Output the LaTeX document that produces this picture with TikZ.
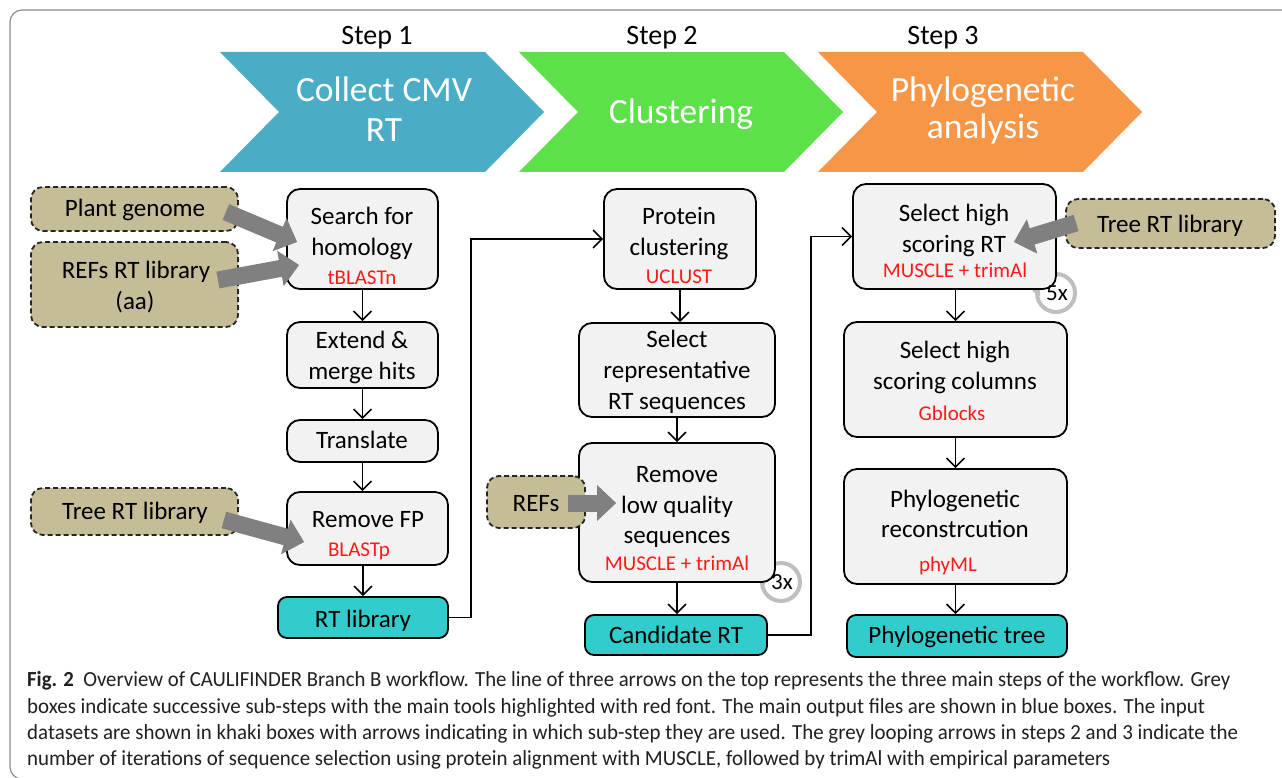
\documentclass[tikz,border=0pt]{standalone}
\usepackage{fontspec}
\setmainfont{Carlito}
\usepackage{graphicx}
\usetikzlibrary{calc,arrows.meta}
\definecolor{chevA}{HTML}{4BACC6}
\definecolor{chevB}{HTML}{5DE04A}
\definecolor{chevC}{HTML}{F79646}
\definecolor{khaki}{HTML}{C4BD97}
\definecolor{boxgray}{HTML}{F2F2F2}
\definecolor{cyanbox}{HTML}{33CCCC}
\definecolor{arrowgray}{HTML}{808080}
\definecolor{loopgray}{HTML}{BFBFBF}
\definecolor{framecol}{HTML}{8C8C8C}
\definecolor{captxt}{HTML}{231F20}
\definecolor{tooltxt}{HTML}{FF1A1A}
\newcommand{\fatarrow}[2]{%
  \draw[fatshaft] (#1) -- ($(#2)!17pt!(#1)$);
  \fill[arrowgray] (#2) -- ($(#2)!19pt!(#1)!18pt!90:(#2)$) -- ($(#2)!19pt!(#1)!18pt!-90:(#2)$) -- cycle;}
\newcommand{\chevron}[2]{\fill[#2] (#1,52) -- ++(265,0) -- ++(59,60) -- ++(-59,60) -- ++(-265,0) -- ++(59,-60) -- cycle;}
\begin{document}
\begin{tikzpicture}[x=1pt,y=-1pt,
  proc/.style={draw=black, line width=1.8pt, fill=boxgray, rounded corners=13pt, inner sep=0pt},
  inbox/.style={draw=black!85, dash pattern=on 5pt off 3pt, line width=1.8pt, fill=khaki, rounded corners=12pt, inner sep=0pt},
  outbox/.style={draw=black, line width=1.8pt, fill=cyanbox, rounded corners=9pt, inner sep=0pt},
  txt/.style={anchor=base, inner sep=0pt, font=\fontsize{25}{30}\selectfont},
  tool/.style={anchor=base, inner sep=0pt, text=tooltxt, font=\fontsize{21}{25}\selectfont},
  steplbl/.style={anchor=base, inner sep=0pt, font=\fontsize{28}{32}\selectfont},
  chevtxt/.style={anchor=base, inner sep=0pt, text=white, font=\fontsize{35.5}{40}\selectfont},
  conn/.style={draw=black, line width=1.5pt, -{Straight Barb[length=9pt,width=18pt]}},
  fatshaft/.style={draw=arrowgray, line width=17pt, line cap=butt},
  loopring/.style={draw=loopgray, line width=4pt},
  looptxt/.style={anchor=center, inner sep=0pt, font=\fontsize{23}{26}\selectfont},
  capline/.style={anchor=base west, inner sep=0pt, text=captxt, font=\fontsize{21.5}{26}\selectfont}]
\useasboundingbox (0,0) rectangle (1282,778);
\fill[white] (0,0) rectangle (1282,778);
\begin{scope}
  \clip (0,0) rectangle (1282,778);
  \draw[framecol, line width=1.2pt, rounded corners=12pt] (10,10) rectangle (1300,779);
\end{scope}

% chevrons
\chevron{220}{chevA}
\chevron{519}{chevB}
\chevron{818}{chevC}
\node[steplbl] (st1) at (377,45) {Step 1};
\node[steplbl] (st2) at (662,45) {Step 2};
\node[steplbl] (st3) at (943,45) {Step 3};
\node[chevtxt] (c1a) at (384,102) {Collect CMV};
\node[chevtxt] (c1b) at (384,142) {RT};
\node[chevtxt] (c2a) at (681,124) {Clustering};
\node[chevtxt] (c3a) at (983,102) {Phylogenetic};
\node[chevtxt] (c3b) at (983,139) {analysis};

% loop rings (behind boxes)
\coordinate (lp1) at (781,582);
\coordinate (lp2) at (1056,293);
\draw[loopring] (lp1) circle[radius=19pt];
\fill[loopgray] ($(lp1)+(-24,-2)$) -- ($(lp1)+(-16,-7)$) -- ($(lp1)+(-16,3)$) -- cycle;
\draw[loopring] (lp2) circle[radius=19pt];
\fill[loopgray] ($(lp2)+(-24,-2)$) -- ($(lp2)+(-16,-7)$) -- ($(lp2)+(-16,3)$) -- cycle;

% step 1
\node[inbox, minimum width=207pt, minimum height=44pt] (plant) at (134.5,209) {};
\node[inbox, minimum width=207pt, minimum height=85pt] (refs) at (134.5,284.5) {};
\node[inbox, minimum width=207pt, minimum height=47pt] (treeL) at (134.5,511.5) {};
\node[proc, minimum width=151pt, minimum height=100pt] (search) at (362.5,239) {};
\node[proc, minimum width=151pt, minimum height=66pt] (extend) at (362.5,355) {};
\node[proc, minimum width=151pt, minimum height=42pt] (translate) at (362.5,441) {};
\node[proc, minimum width=161pt, minimum height=73pt] (remfp) at (367.5,528.5) {};
\node[outbox, minimum width=170pt, minimum height=41pt] (rtlib) at (363,617.5) {};

\node[txt] (t-plant) at (135,216) {Plant genome};
\node[txt] (t-refs1) at (136,278) {REFs RT library};
\node[txt] (t-refs2) at (135,309) {(aa)};
\node[txt] (t-treeL) at (135,519) {Tree RT library};
\node[txt] (t-search1) at (362,225) {Search for};
\node[txt] (t-search2) at (362,255) {homology};
\node[tool] (t-search3) at (362,284) {tBLASTn};
\node[txt] (t-ext1) at (362,348) {Extend \&};
\node[txt] (t-ext2) at (362,379) {merge hits};
\node[txt] (t-trans) at (362,448) {Translate};
\node[txt] (t-rem1) at (368,527) {Remove FP};
\node[tool] (t-rem2) at (359,556) {BLASTp};
\node[txt] (t-rtlib) at (363,627) {RT library};

% step 2
\node[proc, minimum width=152pt, minimum height=100pt] (protein) at (680,239) {};
\node[proc, minimum width=196pt, minimum height=94pt] (selrep) at (677,370) {};
\node[proc, minimum width=196pt, minimum height=139pt] (remlow) at (677,512.5) {};
\node[inbox, minimum width=98pt, minimum height=52pt] (refs2) at (536,502) {};
\node[outbox, minimum width=182pt, minimum height=40pt] (cand) at (676,635) {};

\node[txt] (t-prot1) at (679,225) {Protein};
\node[txt] (t-prot2) at (679,255) {clustering};
\node[tool] (t-prot3) at (679,283) {UCLUST};
\node[txt] (t-sel1) at (677,347) {Select};
\node[txt] (t-sel2) at (677,378) {representative};
\node[txt] (t-sel3) at (677,409) {RT sequences};
\node[txt] (t-low1) at (677,482) {Remove};
\node[txt] (t-low2) at (677,513) {low quality};
\node[txt] (t-low3) at (677,543) {sequences};
\node[tool] (t-low4) at (677,570) {MUSCLE + trimAl};
\node[txt] (t-refs3) at (536,511) {REFs};
\node[txt] (t-cand) at (676,643) {Candidate RT};

% step 3
\node[proc, minimum width=203pt, minimum height=105pt] (selRT) at (954.5,236.5) {};
\node[inbox, minimum width=209pt, minimum height=49pt] (treeR) at (1170.5,223.5) {};
\node[proc, minimum width=223pt, minimum height=115pt] (selcol) at (955.5,379.5) {};
\node[proc, minimum width=223pt, minimum height=115pt] (phylo) at (955.5,526.5) {};
\node[outbox, minimum width=220pt, minimum height=42pt] (tree) at (957,636) {};

\node[txt] (t-srt1) at (954,222) {Select high};
\node[txt] (t-srt2) at (954,252) {scoring RT};
\node[tool] (t-srt3) at (955,277) {MUSCLE + trimAl};
\node[txt] (t-treeR) at (1170,233) {Tree RT library};
\node[txt] (t-col1) at (955,358) {Select high};
\node[txt] (t-col2) at (955,389) {scoring columns};
\node[tool] (t-col3) at (952,420) {Gblocks};
\node[txt] (t-phy1) at (955,507) {Phylogenetic};
\node[txt] (t-phy2) at (955,537) {reconstrcution};
\node[tool] (t-phy3) at (948,571) {phyML};
\node[txt] (t-tree) at (957,643) {Phylogenetic tree};

% loop labels
\node[looptxt] (l3x) at ($(lp1)+(1,0)$) {3x};
\node[looptxt] (l5x) at ($(lp2)+(1,0)$) {5x};

% connectors step 1
\draw[conn] (search) -- (extend);
\draw[conn] (extend) -- (translate);
\draw[conn] (translate.south) -- (translate.south |- remfp.north);
\draw[conn] (rtlib.north |- remfp.south) -- (rtlib.north);
\draw[conn] (rtlib.east) -- ++(22,0) |- (protein.west);
% step 2
\draw[conn] (protein.south) -- (protein.south |- selrep.north);
\draw[conn] (selrep.south) -- (selrep.south |- remlow.north);
\draw[conn] (remlow.south) -- (remlow.south |- cand.north);
\draw[conn] (cand.east) -- ++(43,0) |- (selRT.west);
% step 3
\draw[conn] (selcol.north |- selRT.south) -- (selcol.north);
\draw[conn] (selcol.south) -- (phylo.north);
\draw[conn] (phylo.south) -- (phylo.south |- tree.north);

% fat grey input arrows
\coordinate (fa1s) at ($(plant.east)+(-13,3)$);
\coordinate (fa1t) at ($(search.west)+(11,3)$);
\coordinate (fa2s) at ($(refs.east)+(-21,-4.5)$);
\coordinate (fa2t) at ($(search.west)+(13,26)$);
\coordinate (fa3s) at ($(treeL.east)+(-15,8.5)$);
\coordinate (fa3t) at ($(remfp.west)+(18,13.5)$);
\coordinate (fa4s) at ($(refs2.east)+(-18,1)$);
\coordinate (fa4t) at ($(remlow.west)+(38,-9.5)$);
\coordinate (fa5s) at ($(treeR.west)+(11,-0.5)$);
\coordinate (fa5t) at ($(selRT.east)+(-43,5.5)$);
\fatarrow{fa1s}{fa1t}
\fatarrow{fa2s}{fa2t}
\fatarrow{fa3s}{fa3t}
\fatarrow{fa4s}{fa4t}
\fatarrow{fa5s}{fa5t}

% caption
\node[capline] (cap1) at (27,686) {\resizebox{1203pt}{\height}{\textbf{Fig. 2}\hspace{0.45em}Overview of CAULIFINDER Branch B workflow. The line of three arrows on the top represents the three main steps of the workflow. Grey}};
\node[capline] (cap2) at (27,713) {\resizebox{1178pt}{\height}{boxes indicate successive sub-steps with the main tools highlighted with red font. The main output files are shown in blue boxes. The input}};
\node[capline] (cap3) at (27,739) {\resizebox{1211pt}{\height}{datasets are shown in khaki boxes with arrows indicating in which sub-step they are used. The grey looping arrows in steps 2 and 3 indicate the}};
\node[capline] (cap4) at (27,765) {\resizebox{1083pt}{\height}{number of iterations of sequence selection using protein alignment with MUSCLE, followed by trimAl with empirical parameters}};
\end{tikzpicture}
\end{document}
